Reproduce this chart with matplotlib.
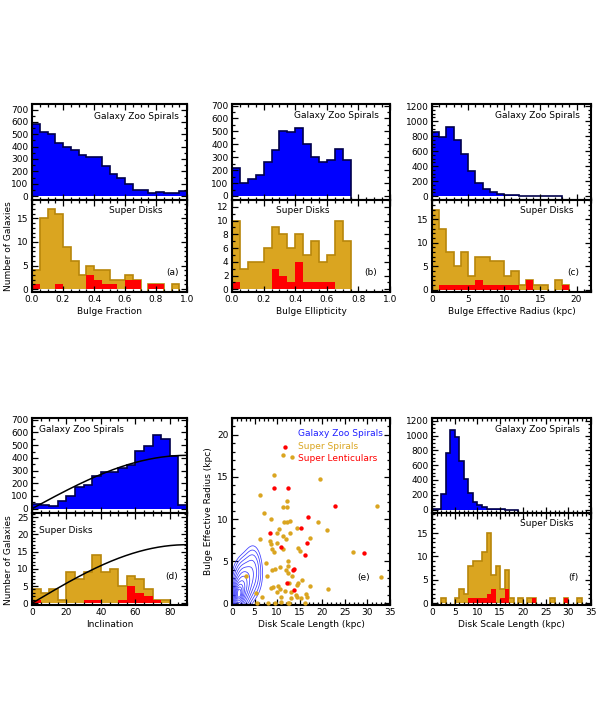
import numpy as np
import matplotlib.pyplot as plt
from matplotlib.ticker import MultipleLocator

plt.rcParams['font.family'] = ['DejaVu Sans']

# (a) bulge fraction, bins of 0.05
bf_edges = np.arange(0, 1.0001, 0.05)
bf_gz = [580, 520, 500, 430, 395, 370, 330, 320, 320, 245, 180, 145, 95, 45, 50, 25, 30, 25, 25, 40]
bf_sd = [4, 15, 17, 16, 9, 6, 3, 5, 4, 4, 2, 2, 3, 2, 0, 1, 1, 0, 1, 0]
bf_s0 = [1, 0, 0, 1, 0, 0, 0, 3, 2, 1, 1, 0, 2, 2, 0, 1, 1, 0, 0, 0]

# (b) bulge ellipticity, bins of 0.05
be_edges = np.arange(0, 1.0001, 0.05)
be_gz = [220, 100, 130, 160, 260, 355, 505, 495, 530, 400, 305, 260, 280, 360, 275, 0, 0, 0, 0, 0]
be_sd = [10, 3, 4, 4, 6, 9, 8, 6, 8, 5, 7, 4, 5, 10, 7, 0, 0, 0, 0, 0]
be_s0 = [1, 0, 0, 0, 0, 3, 2, 1, 4, 1, 1, 1, 1, 0, 0, 0, 0, 0, 0, 0]

# (c) bulge effective radius (kpc), bins of 1
re_edges = np.arange(0, 22.001, 1)
re_gz = [850, 790, 920, 750, 560, 340, 180, 100, 60, 25, 12, 8, 5, 4, 3, 2, 1, 1, 0, 0, 0, 0]
re_sd = [17, 13, 8, 5, 8, 3, 7, 7, 6, 6, 3, 4, 1, 2, 1, 1, 0, 2, 1, 0, 0, 0]
re_s0 = [0, 1, 1, 1, 1, 1, 2, 1, 1, 1, 1, 1, 0, 2, 0, 0, 0, 0, 1, 0, 0, 0]

# (d) inclination (deg), bins of 5
inc_edges = np.arange(0, 90.001, 5)
inc_gz = [40, 30, 25, 60, 100, 170, 190, 260, 290, 290, 320, 345, 455, 490, 580, 550, 415, 30]
inc_sd = [4, 3, 4, 1, 9, 7, 9, 14, 9, 10, 5, 8, 7, 4, 1, 1, 0, 0]
inc_s0 = [1, 0, 0, 0, 0, 0, 1, 1, 0, 0, 1, 5, 3, 2, 1, 0, 0, 0]
inc_amp_gz = 420   # random-orientation expectation, scaled
inc_amp_sd = 17

# (e) disk scale length vs bulge effective radius
ss_x = [11.4, 13.2, 9.3, 19.5, 6.1, 12.1, 11.3, 12.1, 32.2, 7.1,
        8.7, 19.0, 12.8, 12.1, 11.6, 10.4, 14.5, 21.1, 10.0, 12.9,
        11.4, 8.5, 11.9, 17.2, 6.2, 8.6, 9.9, 8.9, 11.2, 14.7,
        15.0, 26.7, 9.2, 7.6, 12.5, 9.5, 8.9, 10.6, 12.5, 11.9,
        12.3, 3.1, 7.8, 33.1, 13.3, 15.6, 14.7, 14.5, 17.3, 9.1,
        10.2, 10.6, 8.6, 12.7, 21.2, 11.8, 13.0, 14.1, 14.4, 16.4,
        16.6, 15.2, 6.7, 10.0, 8.0, 9.5, 10.8, 12.3, 12.7, 16.2,
        5.6, 5.4, 10.8, 13.0]
ss_y = [17.6, 17.4, 15.2, 14.7, 12.9, 12.2, 11.4, 11.4, 11.6, 10.7,
        10.0, 9.7, 9.8, 9.7, 9.6, 8.8, 9.0, 8.7, 8.4, 8.4,
        8.0, 7.4, 7.6, 7.7, 7.6, 7.0, 7.2, 6.4, 6.4, 6.6,
        6.2, 6.1, 6.1, 4.8, 5.0, 4.1, 4.0, 4.3, 4.4, 3.9,
        3.6, 3.2, 3.2, 3.1, 3.2, 2.8, 2.4, 2.2, 2.1, 1.9,
        2.0, 1.7, 1.8, 2.4, 1.7, 1.5, 1.3, 1.0, 0.7, 1.1,
        0.7, 0.6, 0.7, 1.3, 0.0, 0.0, 0.1, 0.0, 0.0, 0.0,
        0.0, 1.2, 0.8, 0.6]
sl_x = [11.8, 9.3, 12.4, 22.8, 16.9, 15.3, 8.4, 16.7, 10.8, 29.2, 16.1, 13.8, 13.6, 12.1, 13.8]
sl_y = [18.6, 13.7, 13.7, 11.6, 10.2, 9.0, 8.3, 7.2, 6.7, 6.0, 5.7, 4.1, 3.9, 2.4, 1.6]
# galaxy zoo density, rough blobs: (x, y, sx, sy, weight)
gz_blobs = [(1.4, 1.0, 0.7, 0.9, 1.0),
            (2.3, 1.9, 1.0, 1.3, 0.55),
            (3.4, 3.0, 1.6, 1.5, 0.28),
            (4.7, 4.5, 1.1, 1.5, 0.13)]

# (f) disk scale length (kpc), bins of 1
dl_edges = np.arange(0, 35.001, 1)
dl_gz = [5, 15, 210, 770, 1080, 980, 660, 420, 220, 110, 60, 30, 15, 8, 5, 3, 2, 1, 1, 0,
         0, 0, 0, 0, 0, 0, 0, 0, 0, 0, 0, 0, 0, 0, 0]
dl_sd = [0, 0, 1, 0, 0, 1, 3, 2, 8, 9, 9, 11, 15, 6, 8, 3, 7, 1, 0, 1,
         0, 1, 1, 0, 0, 0, 1, 0, 0, 1, 0, 0, 1, 0, 0]
dl_s0 = [0, 0, 0, 0, 0, 0, 0, 0, 1, 1, 1, 1, 2, 3, 0, 1, 3, 0, 0, 0,
         0, 0, 1, 0, 0, 0, 0, 0, 0, 1, 0, 0, 0, 0, 0]

blue = '#0000ff'
navy = '#00004a'
gold = '#daa520'
gold_dark = '#b8860b'
fs = 6.5

fig = plt.figure(figsize=(5.98, 7.25), dpi=100)
W, H = 598, 725


def box(x0, x1, y0, y1):
    return [x0 / W, 1 - y1 / H, (x1 - x0) / W, (y1 - y0) / H]


def idl_ticks(ax, xmaj, xmin, ymaj, ymin):
    ax.xaxis.set_major_locator(MultipleLocator(xmaj))
    ax.xaxis.set_minor_locator(MultipleLocator(xmin))
    ax.yaxis.set_major_locator(MultipleLocator(ymaj))
    ax.yaxis.set_minor_locator(MultipleLocator(ymin))
    ax.tick_params(which='both', direction='in', top=True, right=True,
                   labelsize=fs, width=0.9, pad=2.5)
    ax.tick_params(which='major', length=4)
    ax.tick_params(which='minor', length=2)
    for s in ax.spines.values():
        s.set_linewidth(1.5)


def outline(ax, vals, edges, color, drop):
    # empty bins pushed below the axis so no line runs along zero
    v = np.asarray(vals, float)
    v = np.where(v > 0, v, -drop)
    ax.stairs(v, edges, baseline=-drop, color=color, lw=1.2)


def hists(ax_t, ax_b, edges, gz, sd, s0):
    ax_t.stairs(gz, edges, fill=True, color=blue, lw=0)
    outline(ax_t, gz, edges, navy, 400)
    ax_b.stairs(sd, edges, fill=True, color=gold, lw=0)
    outline(ax_b, sd, edges, gold_dark, 10)
    ax_b.stairs(s0, edges, fill=True, color='red', lw=0)


cols = [(32, 187), (232, 390), (432, 591)]
top_row = (104, 200, 292)
bot_row = (418, 513, 605)

# ---- (a)
at = fig.add_axes(box(*cols[0], top_row[0], top_row[1]))
ab = fig.add_axes(box(*cols[0], top_row[1], top_row[2]))
hists(at, ab, bf_edges, bf_gz, bf_sd, bf_s0)
at.set_xlim(0, 1); ab.set_xlim(0, 1)
at.set_ylim(-32, 745); ab.set_ylim(-0.6, 18.9)
idl_ticks(at, 0.2, 0.05, 100, 50); idl_ticks(ab, 0.2, 0.05, 5, 1)
at.tick_params(labelbottom=False)
ab.xaxis.set_major_formatter(lambda v, p: f'{v:.1f}')
at.text(0.945, 0.87, 'Galaxy Zoo Spirals', transform=at.transAxes, ha='right', va='center', fontsize=fs)
ab.text(0.67, 0.89, 'Super Disks', transform=ab.transAxes, ha='center', va='center', fontsize=fs)
ab.text(0.905, 0.215, '(a)', transform=ab.transAxes, ha='center', va='center', fontsize=fs)
ab.set_xlabel('Bulge Fraction', fontsize=fs, labelpad=2)
fig.text(8.5 / W, 1 - 246 / H, 'Number of Galaxies', rotation=90, ha='center', va='center', fontsize=fs)

# ---- (b)
bt = fig.add_axes(box(*cols[1], top_row[0], top_row[1]))
bb = fig.add_axes(box(*cols[1], top_row[1], top_row[2]))
hists(bt, bb, be_edges, be_gz, be_sd, be_s0)
bt.set_xlim(0, 1); bb.set_xlim(0, 1)
bt.set_ylim(-31, 712); bb.set_ylim(-0.4, 13)
idl_ticks(bt, 0.2, 0.05, 100, 50); idl_ticks(bb, 0.2, 0.05, 2, 1)
bt.tick_params(labelbottom=False)
bb.xaxis.set_major_formatter(lambda v, p: f'{v:.1f}')
bt.text(0.93, 0.875, 'Galaxy Zoo Spirals', transform=bt.transAxes, ha='right', va='center', fontsize=fs)
bb.text(0.445, 0.89, 'Super Disks', transform=bb.transAxes, ha='center', va='center', fontsize=fs)
bb.text(0.88, 0.21, '(b)', transform=bb.transAxes, ha='center', va='center', fontsize=fs)
bb.set_xlabel('Bulge Ellipticity', fontsize=fs, labelpad=2)

# ---- (c)
ct = fig.add_axes(box(*cols[2], top_row[0], top_row[1]))
cb = fig.add_axes(box(*cols[2], top_row[1], top_row[2]))
hists(ct, cb, re_edges, re_gz, re_sd, re_s0)
ct.set_xlim(0, 22); cb.set_xlim(0, 22)
ct.set_ylim(-53, 1227); cb.set_ylim(-0.5, 19.1)
idl_ticks(ct, 5, 1, 200, 50); idl_ticks(cb, 5, 1, 5, 1)
ct.tick_params(labelbottom=False)
ct.text(0.93, 0.875, 'Galaxy Zoo Spirals', transform=ct.transAxes, ha='right', va='center', fontsize=fs)
cb.text(0.72, 0.89, 'Super Disks', transform=cb.transAxes, ha='center', va='center', fontsize=fs)
cb.text(0.89, 0.215, '(c)', transform=cb.transAxes, ha='center', va='center', fontsize=fs)
cb.set_xlabel('Bulge Effective Radius (kpc)', fontsize=fs, labelpad=2)

# ---- (d)
dt = fig.add_axes(box(*cols[0], bot_row[0], bot_row[1]))
db = fig.add_axes(box(*cols[0], bot_row[1], bot_row[2]))
hists(dt, db, inc_edges, inc_gz, inc_sd, inc_s0)
inc = np.linspace(0, 90, 200)
dt.plot(inc, inc_amp_gz * np.sin(np.radians(inc)), color='k', lw=1.1)
db.plot(inc, inc_amp_sd * np.sin(np.radians(inc)), color='k', lw=1.1)
dt.set_xlim(0, 90); db.set_xlim(0, 90)
dt.set_ylim(-34, 714); db.set_ylim(-0.5, 26.2)
idl_ticks(dt, 20, 5, 100, 50); idl_ticks(db, 20, 5, 5, 1)
dt.tick_params(labelbottom=False)
dt.text(0.045, 0.875, 'Galaxy Zoo Spirals', transform=dt.transAxes, ha='left', va='center', fontsize=fs)
db.text(0.045, 0.81, 'Super Disks', transform=db.transAxes, ha='left', va='center', fontsize=fs)
db.text(0.9, 0.31, '(d)', transform=db.transAxes, ha='center', va='center', fontsize=fs)
db.set_xlabel('Inclination', fontsize=fs, labelpad=2)
fig.text(8.5 / W, 1 - 560 / H, 'Number of Galaxies', rotation=90, ha='center', va='center', fontsize=fs)

# ---- (e)
ea = fig.add_axes(box(*cols[1], bot_row[0], bot_row[2]))
gx, gy = np.meshgrid(np.linspace(0, 12, 300), np.linspace(-1, 10, 300))
dens = np.zeros_like(gx)
for cx, cy, sx, sy, w in gz_blobs:
    dens += w * np.exp(-0.5 * (((gx - cx) / sx) ** 2 + ((gy - cy) / sy) ** 2))
dens /= dens.max()
# contour levels evenly spaced in "radius" so the rings are evenly nested
lev = np.sort(np.exp(-0.5 * np.linspace(0.45, 2.6, 11) ** 2))
ea.contour(gx, gy, dens, levels=lev, colors='#3a3aff', linewidths=0.55)
ea.scatter(ss_x, ss_y, s=10, color=gold, lw=0, zorder=3)
ea.scatter(sl_x, sl_y, s=10, color='red', lw=0, zorder=3)
ea.set_xlim(0, 35); ea.set_ylim(-0.2, 22)
idl_ticks(ea, 5, 1, 5, 1)
ea.text(0.42, 0.918, 'Galaxy Zoo Spirals', transform=ea.transAxes, color='#2020ff', va='center', fontsize=fs)
ea.text(0.42, 0.85, 'Super Spirals', transform=ea.transAxes, color=gold, va='center', fontsize=fs)
ea.text(0.42, 0.784, 'Super Lenticulars', transform=ea.transAxes, color='red', va='center', fontsize=fs)
ea.text(0.83, 0.146, '(e)', transform=ea.transAxes, ha='center', va='center', fontsize=fs)
ea.set_xlabel('Disk Scale Length (kpc)', fontsize=fs, labelpad=2)
ea.set_ylabel('Bulge Effective Radius (kpc)', fontsize=fs, labelpad=3)

# ---- (f)
ft = fig.add_axes(box(*cols[2], bot_row[0], bot_row[1]))
fb = fig.add_axes(box(*cols[2], bot_row[1], bot_row[2]))
hists(ft, fb, dl_edges, dl_gz, dl_sd, dl_s0)
ft.set_xlim(0, 35); fb.set_xlim(0, 35)
ft.set_ylim(-45, 1236); fb.set_ylim(-0.4, 19.3)
idl_ticks(ft, 5, 1, 200, 50); idl_ticks(fb, 5, 1, 5, 1)
ft.tick_params(labelbottom=False)
ft.text(0.93, 0.875, 'Galaxy Zoo Spirals', transform=ft.transAxes, ha='right', va='center', fontsize=fs)
fb.text(0.72, 0.89, 'Super Disks', transform=fb.transAxes, ha='center', va='center', fontsize=fs)
fb.text(0.89, 0.3, '(f)', transform=fb.transAxes, ha='center', va='center', fontsize=fs)
fb.set_xlabel('Disk Scale Length (kpc)', fontsize=fs, labelpad=2)

fig.savefig('out.png', dpi=100)
